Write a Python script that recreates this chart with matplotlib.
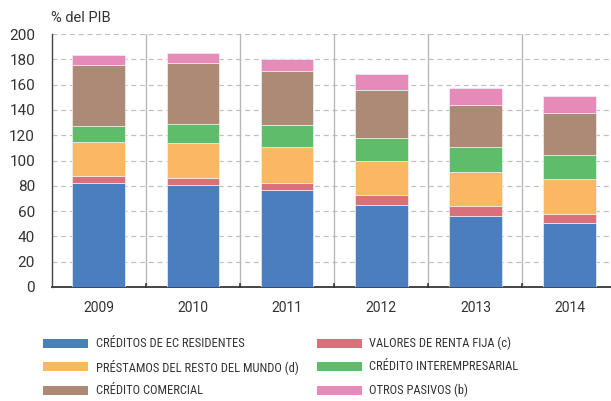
import numpy as np
import matplotlib.pyplot as plt
from matplotlib.patches import Rectangle

# Datos (% del PIB)
years = ["2009", "2010", "2011", "2012", "2013", "2014"]
creditos_ec = [82.6, 80.3, 76.3, 64.9, 56.2, 50.2]
valores_rf = [5.4, 5.7, 6.0, 7.7, 7.7, 7.9]
prestamos_rm = [26.5, 27.5, 28.0, 26.9, 26.9, 27.2]
credito_inter = [13.0, 15.3, 17.4, 18.2, 19.5, 18.7]
credito_com = [48.2, 48.0, 43.3, 38.2, 33.8, 33.7]
otros_pasivos = [7.5, 8.2, 9.5, 12.7, 13.2, 13.5]

series = [
    ("CRÉDITOS DE EC RESIDENTES", creditos_ec, "#4a7ebf"),
    ("VALORES DE RENTA FIJA (c)", valores_rf, "#db707d"),
    ("PRÉSTAMOS DEL RESTO DEL MUNDO (d)", prestamos_rm, "#fbb864"),
    ("CRÉDITO INTEREMPRESARIAL", credito_inter, "#5dbd6a"),
    ("CRÉDITO COMERCIAL", credito_com, "#ad8a75"),
    ("OTROS PASIVOS (b)", otros_pasivos, "#e68bb9"),
]

plt.rcParams["font.family"] = ["Roboto", "DejaVu Sans"]
txt = "#333333"
fig = plt.figure(figsize=(6.11, 4.01), dpi=100)
W, H = 611, 401
ax = fig.add_axes([51.7 / W, 1 - 287 / H, (611 - 51.7) / W, (287 - 34) / H])

x = np.arange(len(years))
bottom = np.zeros(len(years))
for label, vals, col in series:
    ax.bar(x, vals, 0.56, bottom=bottom, color=col, edgecolor="#f0f0f0",
           linewidth=0.5, label=label, zorder=3)
    bottom += np.array(vals)

ax.set_ylim(0, 200)
ax.set_xlim(-0.5, 5.44)
ax.set_yticks(np.arange(0, 201, 20))
ax.set_xticks(x)
ax.set_xticklabels(years)
ax.tick_params(axis="y", length=0, labelsize=11, colors=txt, pad=12)
ax.tick_params(axis="x", length=0, labelsize=10, colors=txt, pad=10)

for yv in np.arange(20, 201, 20):
    ax.axhline(yv, color="#c0c0c0", lw=0.9, ls=(0, (4, 3)), zorder=1)
for xb in np.arange(0.5, 5, 1):
    ax.axvline(xb, color="#b8b8b8", lw=1.0, zorder=1)
    ax.plot([xb, xb], [0, 2.5], color="#333333", lw=1.2, zorder=4, clip_on=False)

for s in ["top", "right"]:
    ax.spines[s].set_visible(False)
ax.spines["left"].set_color("#444444")
ax.spines["left"].set_linewidth(1.0)
ax.spines["bottom"].set_color("#444444")
ax.spines["bottom"].set_linewidth(1.4)

fig.text(51 / W, 1 - 18 / H, "% del PIB", fontsize=10.5, color=txt, va="center")

# Leyenda en dos columnas (orden por filas)
leg_family = ["Roboto Condensed", "DejaVu Sans"]
col_x = [43, 316.7]
row_y = [343.3, 366.7, 390.0]
for i, (label, vals, col) in enumerate(series):
    cx = col_x[i % 2]
    cy = row_y[i // 2]
    fig.add_artist(Rectangle((cx / W, 1 - (cy + 4.5) / H), 45 / W, 9 / H,
                             transform=fig.transFigure, color=col, lw=0))
    fig.text((cx + 52.5) / W, 1 - cy / H, label, fontsize=9.0, color=txt,
             family=leg_family, va="center", ha="left")

fig.savefig("out.png", dpi=100)
